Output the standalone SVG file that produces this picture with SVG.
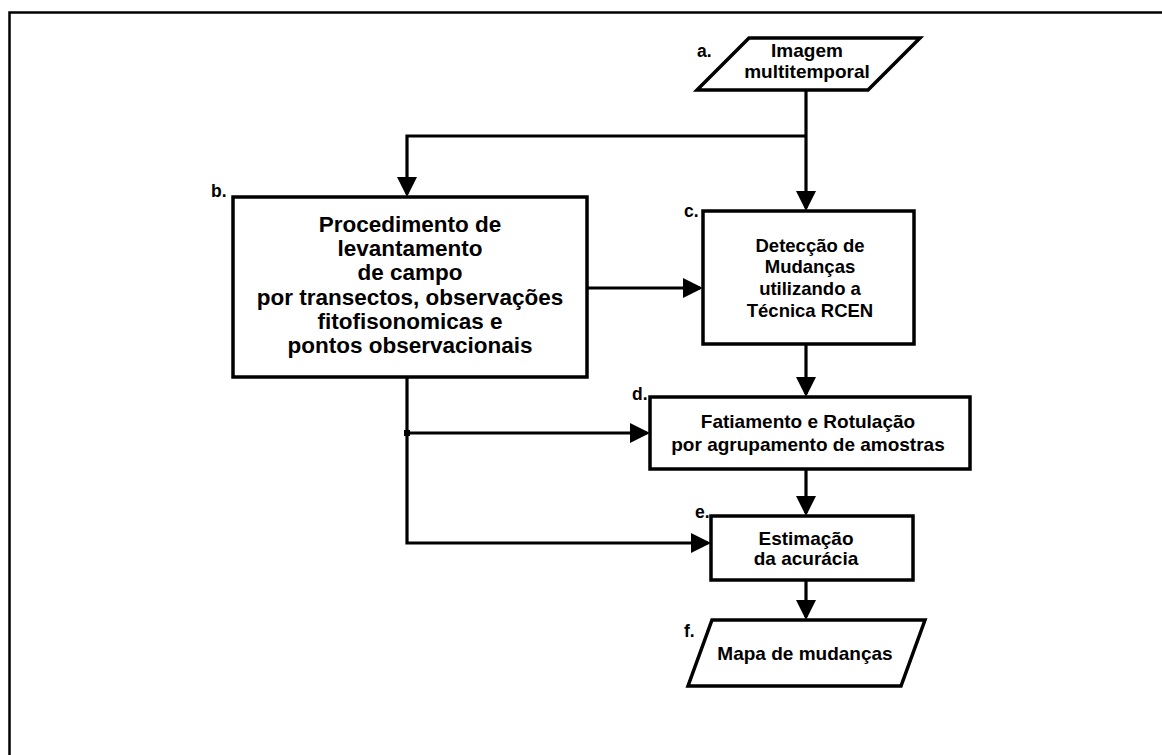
<svg xmlns="http://www.w3.org/2000/svg" width="1162" height="755" viewBox="0 0 1162 755">
  <style>
    .shape { fill: #ffffff; stroke: #000000; stroke-width: 3.5; stroke-linejoin: miter; }
    .frame { fill: none; stroke: #000000; stroke-width: 2.5; }
    .conn { fill: none; stroke: #000000; stroke-width: 3.2; stroke-linecap: butt; stroke-linejoin: miter; }
    text { font-family: "Liberation Sans", Arial, Helvetica, sans-serif; font-weight: bold; fill: #000000; }
    .lbl { font-size: 17.5px; }
    .t-big { font-size: 22.5px; text-anchor: middle; }
    .t-mid { font-size: 18.5px; text-anchor: middle; }
    .t-std { font-size: 19px; text-anchor: middle; }
  </style>
  <defs>
    <marker id="arrow" markerUnits="userSpaceOnUse" markerWidth="20" markerHeight="20" refX="17" refY="10" orient="auto">
      <path d="M0,0 L20,10 L0,20 Z" fill="#000000"/>
    </marker>
  </defs>

  <rect width="1162" height="755" fill="#ffffff"/>
  <!-- outer frame -->
  <rect class="frame" x="9.5" y="12.5" width="1200" height="800"/>

  <!-- connectors -->
  <g id="connectors">
    <path class="conn" d="M806,90 V208" marker-end="url(#arrow)"/>
    <path class="conn" d="M806,136 H407 V194" marker-end="url(#arrow)"/>
    <path class="conn" d="M587,288 H700" marker-end="url(#arrow)"/>
    <path class="conn" d="M806,344 V394" marker-end="url(#arrow)"/>
    <path class="conn" d="M407,377 V433 H647" marker-end="url(#arrow)"/>
    <path class="conn" d="M407,433 V543 H708" marker-end="url(#arrow)"/>
    <path class="conn" d="M806,469 V513" marker-end="url(#arrow)"/>
    <path class="conn" d="M806,580 V617" marker-end="url(#arrow)"/>
    <rect x="404" y="430" width="6" height="6" fill="#000000"/>
  </g>

  <!-- a. input image -->
  <g id="node-a">
    <polygon class="shape" points="749,38 920,38 868,90 697,90"/>
    <text class="lbl" x="697" y="57">a.</text>
    <text class="t-std" x="807" y="57">Imagem</text>
    <text class="t-std" x="807" y="78">multitemporal</text>
  </g>

  <!-- b. field survey -->
  <g id="node-b">
    <rect class="shape" x="233" y="197" width="354" height="180"/>
    <text class="lbl" x="211" y="197">b.</text>
    <text class="t-big" x="410" y="232">Procedimento de</text>
    <text class="t-big" x="410" y="256">levantamento</text>
    <text class="t-big" x="410" y="280">de campo</text>
    <text class="t-big" x="410" y="305">por transectos, observações</text>
    <text class="t-big" x="410" y="329">fitofisonomicas e</text>
    <text class="t-big" x="410" y="353">pontos observacionais</text>
  </g>

  <!-- c. change detection -->
  <g id="node-c">
    <rect class="shape" x="703" y="211" width="211" height="133"/>
    <text class="lbl" x="684" y="217">c.</text>
    <text class="t-mid" x="810" y="252">Detecção de</text>
    <text class="t-mid" x="810" y="273">Mudanças</text>
    <text class="t-mid" x="810" y="295">utilizando a</text>
    <text class="t-mid" x="810" y="317">Técnica RCEN</text>
  </g>

  <!-- d. slicing and labelling -->
  <g id="node-d">
    <rect class="shape" x="650" y="397" width="320" height="72"/>
    <text class="lbl" x="632" y="400">d.</text>
    <text class="t-std" x="808" y="428">Fatiamento e Rotulação</text>
    <text class="t-std" x="808" y="451">por agrupamento de amostras</text>
  </g>

  <!-- e. accuracy estimation -->
  <g id="node-e">
    <rect class="shape" x="711" y="516" width="202" height="64"/>
    <text class="lbl" x="695" y="518">e.</text>
    <text class="t-std" x="806" y="545">Estimação</text>
    <text class="t-std" x="806" y="565">da acurácia</text>
  </g>

  <!-- f. output map -->
  <g id="node-f">
    <polygon class="shape" points="712,620 925,620 901,686 688,686"/>
    <text class="lbl" x="684" y="637">f.</text>
    <text class="t-std" x="805" y="660">Mapa de mudanças</text>
  </g>
</svg>
